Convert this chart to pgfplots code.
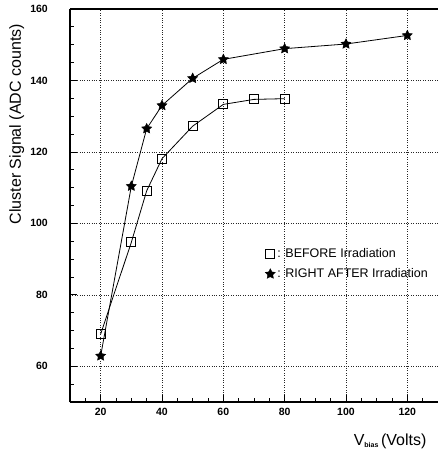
\documentclass[border=0pt]{standalone}
\usepackage{pgfplots}
\pgfplotsset{compat=1.18}
\usepackage{fontspec}
\setmainfont{Liberation Sans}
\usetikzlibrary{plotmarks}
\pgfdeclareplotmark{fstar}{%
  \pgfpathmoveto{\pgfpointpolar{90}{\pgfplotmarksize}}%
  \pgfpathlineto{\pgfpointpolar{126}{0.5\pgfplotmarksize}}%
  \pgfpathlineto{\pgfpointpolar{162}{\pgfplotmarksize}}%
  \pgfpathlineto{\pgfpointpolar{198}{0.5\pgfplotmarksize}}%
  \pgfpathlineto{\pgfpointpolar{234}{\pgfplotmarksize}}%
  \pgfpathlineto{\pgfpointpolar{270}{0.5\pgfplotmarksize}}%
  \pgfpathlineto{\pgfpointpolar{306}{\pgfplotmarksize}}%
  \pgfpathlineto{\pgfpointpolar{342}{0.5\pgfplotmarksize}}%
  \pgfpathlineto{\pgfpointpolar{18}{\pgfplotmarksize}}%
  \pgfpathlineto{\pgfpointpolar{54}{0.5\pgfplotmarksize}}%
  \pgfpathclose\pgfusepathqfillstroke}
\begin{document}
\begin{tikzpicture}
\useasboundingbox (-70pt,-51pt) rectangle (368pt,402pt);
\begin{axis}[
  scale only axis,
  width=368pt, height=393pt,
  at={(0,0)}, anchor=south west,
  xmin=10, xmax=130, ymin=50, ymax=160,
  axis x line*=box, axis y line*=left,
  xtick={20,40,...,120}, ytick={60,80,...,160},
  minor xtick={10,15,...,130}, minor ytick={50,55,...,160},
  xtick pos=bottom, ytick pos=left, tick align=inside,
  major tick length=7pt, minor tick length=4pt,
  tick style={black, line width=0.8pt},
  axis line style={line width=1.3pt},
  grid=major,
  major grid style={dotted, black!85, line width=0.6pt},
  /pgf/number format/assume math mode=true,
  ticklabel style={font=\fontsize{10.5}{12}\selectfont\bfseries},
  yticklabel style={inner sep=0pt, anchor=east, xshift=-22pt},
  xticklabel style={inner sep=0pt, anchor=north, yshift=-6pt},
  ylabel={Cluster Signal (ADC counts)},
  ylabel style={font=\fontsize{16}{18}\selectfont, at={(axis description cs:-0.145,0.707)}, anchor=center, rotate=0},
  xlabel={V\raisebox{-2.5pt}{\fontsize{7}{7}\selectfont\bfseries bias}\,(Volts)},
  xlabel style={font=\fontsize{16}{18}\selectfont, at={(axis description cs:1,0)}, anchor=base east, xshift=-8pt, yshift=-43pt},
  legend style={draw=none, fill=none, at={(axis cs:73.6,88.7)}, anchor=west,
    font=\fontsize{12.5}{14}\selectfont, legend cell align=left,
    row sep=6pt, inner sep=0pt},
  legend image code/.code={\draw[#1] plot coordinates {(0pt,0pt)};},
  every axis plot/.append style={black, line width=0.8pt},
]
\addplot[mark=square, mark size=4.5pt, mark options={solid, line width=0.8pt, fill=white}]
coordinates {(20,69.0) (30,94.7) (35,109.1) (40,118.1) (50,127.2) (60,133.3) (70,134.7) (80,134.9)};
\addlegendentry{: BEFORE Irradiation}
\addplot[mark=fstar, mark size=5.3pt, mark options={solid, line width=0.4pt, fill=black}]
coordinates {(20,62.9) (30,110.4) (35,126.5) (40,133.0) (50,140.6) (60,145.9) (80,148.9) (100,150.2) (120,152.6)};
\addlegendentry{: RIGHT AFTER Irradiation}
\end{axis}
\end{tikzpicture}
\end{document}
